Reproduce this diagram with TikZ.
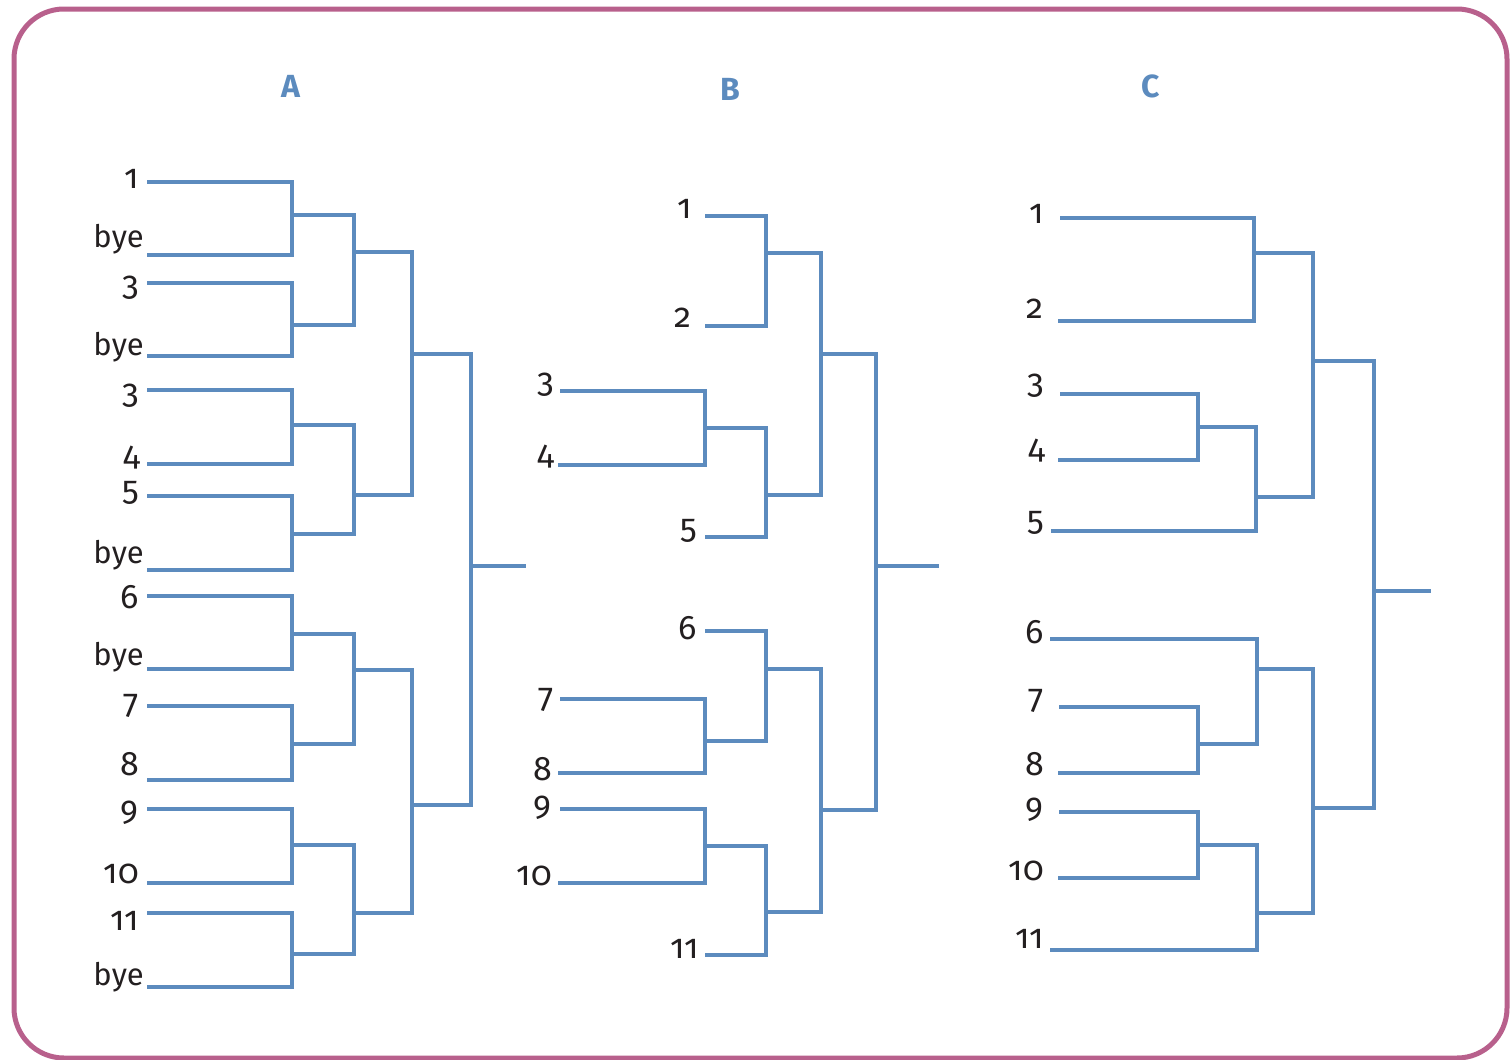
\documentclass[tikz,border=0pt]{standalone}
\usepackage{fontspec}
\setmainfont{Fira Sans}[Numbers=OldStyle]
\definecolor{framec}{RGB}{184,96,140}
\definecolor{linec}{RGB}{92,139,190}
\definecolor{textc}{RGB}{35,31,32}
\begin{document}
\begin{tikzpicture}[x=1pt,y=-1pt,
  br/.style={draw=linec,line width=3.2pt,line join=miter},
  lbl/.style={anchor=base east,inner sep=0pt,text=textc,font=\fontsize{34}{40}\selectfont},
  byel/.style={anchor=base east,inner sep=0pt,text=textc,font=\fontsize{31}{37}\selectfont},
  ttl/.style={anchor=base,inner sep=0pt,text=linec,font=\fontsize{32}{38}\selectfont\bfseries}]
\useasboundingbox (0,0) rectangle (1510,1060);
\draw[framec,line width=5pt,rounded corners=50pt] (14,9) rectangle (1507,1058);

% titles
\node[ttl] (tA) at (291,97) {A};
\node[ttl] (tB) at (730,100) {B};
\node[ttl] (tC) at (1151,97) {C};

% ---------------- bracket A ----------------
\foreach \n/\y in {1/182,2/255,3/283,4/356,5/390,6/464,7/496,8/570,9/596,10/669,11/706,12/780,13/809,14/883,15/913,16/987}
  \coordinate (a\n) at (147,\y);
\coordinate (am1) at (292,215);
\coordinate (am2) at (292,325);
\coordinate (am3) at (292,425);
\coordinate (am4) at (292,534);
\coordinate (am5) at (292,634);
\coordinate (am6) at (292,744);
\coordinate (am7) at (292,845);
\coordinate (am8) at (292,954);
\coordinate (an1) at (354,252);
\coordinate (an2) at (354,495);
\coordinate (an3) at (354,670);
\coordinate (an4) at (354,913);
\coordinate (ao1) at (412,354);
\coordinate (ao2) at (412,805);
\coordinate (ap) at (471,566);
\coordinate (aend) at (526,566);
\draw[br] (a1) -| (am1) |- (a2);
\draw[br] (a3) -| (am2) |- (a4);
\draw[br] (a5) -| (am3) |- (a6);
\draw[br] (a7) -| (am4) |- (a8);
\draw[br] (a9) -| (am5) |- (a10);
\draw[br] (a11) -| (am6) |- (a12);
\draw[br] (a13) -| (am7) |- (a14);
\draw[br] (a15) -| (am8) |- (a16);
\draw[br] (am1) -| (an1) |- (am2);
\draw[br] (am3) -| (an2) |- (am4);
\draw[br] (am5) -| (an3) |- (am6);
\draw[br] (am7) -| (an4) |- (am8);
\draw[br] (an1) -| (ao1) |- (an2);
\draw[br] (an3) -| (ao2) |- (an4);
\draw[br] (ao1) -| (ap) |- (ao2);
\draw[br] (ap) -- (aend);

\node[lbl] (la1) at (139,188) {1};
\node[byel] (la2) at (144,247) {bye};
\node[lbl] (la3) at (139,295) {3};
\node[byel] (la4) at (144,355) {bye};
\node[lbl] (la5) at (139,403) {3};
\node[lbl] (la6) at (140,465) {4};
\node[lbl] (la7) at (139,500) {5};
\node[byel] (la8) at (144,563) {bye};
\node[lbl] (la9) at (139,608) {6};
\node[byel] (la10) at (144,665) {bye};
\node[lbl] (la11) at (139,713) {7};
\node[lbl] (la12) at (139,775) {8};
\node[lbl] (la13) at (139,820) {9};
\node[lbl] (la14) at (139,883) {10};
\node[lbl] (la15) at (139,930) {11};
\node[byel] (la16) at (144,985) {bye};

% ---------------- bracket B ----------------
\coordinate (b1) at (705,216);
\coordinate (b2) at (705,326);
\coordinate (b3) at (560,391);
\coordinate (b4) at (558,465);
\coordinate (b5) at (705,537);
\coordinate (b6) at (705,631);
\coordinate (b7) at (560,699);
\coordinate (b8) at (558,773);
\coordinate (b9) at (560,809);
\coordinate (b10) at (558,883);
\coordinate (b11) at (705,955);
\coordinate (bm34) at (705,428);
\coordinate (bm12) at (766,253);
\coordinate (bm345) at (766,495);
\coordinate (bmt) at (821,354);
\coordinate (bm78) at (705,741);
\coordinate (bm910) at (705,846);
\coordinate (bm678) at (766,669);
\coordinate (bm911) at (766,912);
\coordinate (bmb) at (821,810);
\coordinate (bp) at (876,566);
\coordinate (bend) at (939,566);
\draw[br] (b3) -| (bm34) |- (b4);
\draw[br] (b1) -| (bm12) |- (b2);
\draw[br] (bm34) -| (bm345) |- (b5);
\draw[br] (bm12) -| (bmt) |- (bm345);
\draw[br] (b7) -| (bm78) |- (b8);
\draw[br] (b9) -| (bm910) |- (b10);
\draw[br] (b6) -| (bm678) |- (bm78);
\draw[br] (bm910) -| (bm911) |- (b11);
\draw[br] (bm678) -| (bmb) |- (bm911);
\draw[br] (bmt) -| (bp) |- (bmb);
\draw[br] (bp) -- (bend);

\node[lbl] (lb1) at (692,218) {1};
\node[lbl] (lb2) at (692,327) {2};
\node[lbl] (lb3) at (554,392) {3};
\node[lbl] (lb4) at (554,464) {4};
\node[lbl] (lb5) at (697,538) {5};
\node[lbl] (lb6) at (697,639) {6};
\node[lbl] (lb7) at (554,707) {7};
\node[lbl] (lb8) at (552,780) {8};
\node[lbl] (lb9) at (552,815) {9};
\node[lbl] (lb10) at (552,885) {10};
\node[lbl] (lb11) at (699,958) {11};

% ---------------- bracket C ----------------
\coordinate (c1) at (1060,218);
\coordinate (c2) at (1058,321);
\coordinate (c3) at (1060,394);
\coordinate (c4) at (1058,460);
\coordinate (c5) at (1051,531);
\coordinate (c6) at (1050,639);
\coordinate (c7) at (1059,707);
\coordinate (c8) at (1058,773);
\coordinate (c9) at (1059,812);
\coordinate (c10) at (1058,878);
\coordinate (c11) at (1050,950);
\coordinate (cm12) at (1254,253);
\coordinate (cm34) at (1198,427);
\coordinate (cm345) at (1256,497);
\coordinate (cmt) at (1313,361);
\coordinate (cm78) at (1198,744);
\coordinate (cm678) at (1257,669);
\coordinate (cm910) at (1198,845);
\coordinate (cm911) at (1257,913);
\coordinate (cmb) at (1313,808);
\coordinate (cp) at (1374,591);
\coordinate (cend) at (1431,591);
\draw[br] (c1) -| (cm12) |- (c2);
\draw[br] (c3) -| (cm34) |- (c4);
\draw[br] (cm34) -| (cm345) |- (c5);
\draw[br] (cm12) -| (cmt) |- (cm345);
\draw[br] (c7) -| (cm78) |- (c8);
\draw[br] (c6) -| (cm678) |- (cm78);
\draw[br] (c9) -| (cm910) |- (c10);
\draw[br] (cm910) -| (cm911) |- (c11);
\draw[br] (cm678) -| (cmb) |- (cm911);
\draw[br] (cmt) -| (cp) |- (cmb);
\draw[br] (cp) -- (cend);

\node[lbl] (lc1) at (1044,223) {1};
\node[lbl] (lc2) at (1044,318) {2};
\node[lbl] (lc3) at (1044,393) {3};
\node[lbl] (lc4) at (1045,458) {4};
\node[lbl] (lc5) at (1044,530) {5};
\node[lbl] (lc6) at (1044,643) {6};
\node[lbl] (lc7) at (1044,708) {7};
\node[lbl] (lc8) at (1044,775) {8};
\node[lbl] (lc9) at (1044,817) {9};
\node[lbl] (lc10) at (1044,880) {10};
\node[lbl] (lc11) at (1044,948) {11};
\end{tikzpicture}
\end{document}
